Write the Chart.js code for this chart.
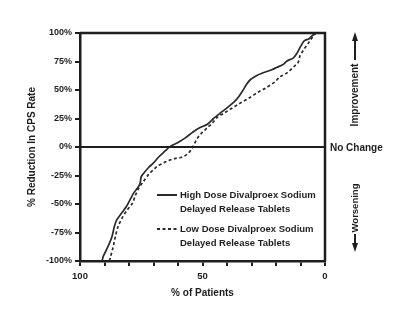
<!DOCTYPE html>
<html>
<head>
<meta charset="utf-8">
<script src="https://cdn.jsdelivr.net/npm/chart.js@4.4.1/dist/chart.umd.min.js"></script>
<style>
  html, body { margin: 0; padding: 0; background: #fff; }
  #wrap { width: 400px; height: 324px; }
</style>
</head>
<body>
<div id="wrap"><canvas id="Cps"></canvas></div>
<script>
// % of patients (x) and % reduction in CPS rate (y)
const highPct = [91, 90.5, 88.5, 87, 86, 85, 83, 81, 79.5, 78, 76.5, 75.5, 75, 74, 72, 70, 68, 65, 63.5, 60, 57, 54, 51, 48, 45.5, 42, 39, 36, 34, 32, 30.5, 28, 26, 22, 19.5, 17, 15.5, 13, 11.5, 10, 8.5, 6.5, 5, 3.5];
const highVal = [-100, -96, -87, -79, -70, -64, -58, -52, -46, -40, -36, -32, -26, -23, -18, -14, -9, -3, 0, 4, 8, 13, 17, 20, 25, 31, 36, 42, 48, 55, 59, 62.5, 64.5, 67.5, 70, 72.5, 75.5, 78, 82, 88, 93, 95, 98, 100];
const lowPct = [88, 87.5, 86.5, 85.5, 84.5, 83, 81, 78.5, 77.5, 76, 74, 72, 70, 68.5, 66, 64, 61, 58.5, 56, 54.5, 53.5, 52, 50, 48, 46, 44, 41, 38, 35, 31, 27, 24, 20.5, 18.4, 15.5, 13, 11, 10.2, 8.5, 6.5, 4];
const lowVal = [-100, -96, -88, -78, -70, -63, -56, -49, -43, -36, -30, -24, -20, -17, -14, -12, -10, -9, -6, -2, 2, 8, 13, 17, 21, 26, 30, 34, 38, 43, 48.5, 52, 57, 61.5, 65, 70, 74, 80, 86, 92, 100];

const highLabel = ["High Dose Divalproex Sodium", "Delayed Release Tablets"];
const lowLabel = ["Low Dose Divalproex Sodium", "Delayed Release Tablets"];
const xLabels = { 100: "100", 50: "50", 0: "0" }; // only these get text

const FONT = "'Liberation Sans', Arial, sans-serif";
const INK = "#1e1e1e";

function pts(xs, ys) {
    return xs.map((x, i) => ({ x: x, y: ys[i] }));
}

// frame, zero line, side notes and legend
const extras = {
    id: "extras",
    afterDatasetsDraw(chart) {
        const ctx = chart.ctx;
        const a = chart.chartArea;
        const y0 = chart.scales.y.getPixelForValue(0);
        ctx.save();
        ctx.strokeStyle = INK;
        ctx.lineWidth = 2.5;
        ctx.beginPath();
        ctx.moveTo(a.left, a.top);
        ctx.lineTo(a.right, a.top);
        ctx.lineTo(a.right, a.bottom);
        ctx.stroke();
        ctx.lineWidth = 2;
        ctx.beginPath();
        ctx.moveTo(a.left, y0);
        ctx.lineTo(a.right, y0);
        ctx.stroke();

        ctx.fillStyle = INK;
        ctx.font = "bold 10px " + FONT;
        ctx.textBaseline = "middle";
        ctx.textAlign = "left";
        ctx.fillText("No Change", a.right + 5, y0 + 1);

        // rotated notes with arrows
        const ax = 355;
        ctx.save();
        ctx.translate(ax, 95);
        ctx.rotate(-Math.PI / 2);
        ctx.textAlign = "center";
        ctx.font = "bold 10px " + FONT;
        ctx.fillText("Improvement", 0, 0);
        ctx.restore();
        ctx.save();
        ctx.translate(ax, 208);
        ctx.rotate(-Math.PI / 2);
        ctx.textAlign = "center";
        ctx.font = "bold 9.5px " + FONT;
        ctx.fillText("Worsening", 0, 0);
        ctx.restore();

        ctx.lineWidth = 2;
        ctx.beginPath();
        ctx.moveTo(ax, 60); ctx.lineTo(ax, 38);
        ctx.moveTo(ax, 234); ctx.lineTo(ax, 246);
        ctx.stroke();
        ctx.beginPath();
        ctx.moveTo(ax, 32); ctx.lineTo(ax - 3, 41); ctx.lineTo(ax + 3, 41); ctx.closePath();
        ctx.moveTo(ax, 252); ctx.lineTo(ax - 3, 243); ctx.lineTo(ax + 3, 243); ctx.closePath();
        ctx.fill();

        // legend
        const rows = [
            { ds: chart.data.datasets[0], y: 195 },
            { ds: chart.data.datasets[1], y: 229 }
        ];
        ctx.font = "bold 9.5px " + FONT;
        rows.forEach(r => {
            ctx.strokeStyle = r.ds.borderColor;
            ctx.lineWidth = 2;
            ctx.setLineDash(r.ds.borderDash || []);
            ctx.beginPath();
            ctx.moveTo(157, r.y);
            ctx.lineTo(177, r.y);
            ctx.stroke();
            ctx.setLineDash([]);
            r.ds.label.forEach((t, i) => ctx.fillText(t, 180, r.y + i * 14));
        });
        ctx.restore();
    }
};

new Chart(document.querySelector("#Cps"), {
    type: "scatter",
    data: {
        datasets: [
            {
                label: highLabel,
                data: pts(highPct, highVal),
                showLine: true,
                borderColor: "#2a2a2a",
                borderWidth: 1.7,
                pointRadius: 0,
                tension: 0.3
            },
            {
                label: lowLabel,
                data: pts(lowPct, lowVal),
                showLine: true,
                borderColor: "#2a2a2a",
                borderWidth: 1.7,
                borderDash: [3, 2.5],
                pointRadius: 0,
                tension: 0.3
            }
        ]
    },
    options: {
        responsive: true,
        maintainAspectRatio: false,
        animation: false,
        layout: { padding: { left: 0, top: 33, right: 75, bottom: 25 } },
        plugins: { legend: { display: false }, tooltip: { enabled: false } },
        scales: {
            x: {
                type: "linear",
                reverse: true,
                min: 0,
                max: 100,
                afterFit: s => { s.height = 38; },
                border: { color: INK, width: 2.5 },
                grid: { drawOnChartArea: false, tickLength: 5, color: INK, lineWidth: 2 },
                ticks: {
                    stepSize: 10,
                    padding: 5,
                    maxRotation: 0,
                    autoSkip: false,
                    color: INK,
                    font: { family: FONT, size: 9.5, weight: "bold" },
                    callback: v => xLabels[v] || ""
                },
                title: {
                    display: true,
                    text: "% of Patients",
                    color: INK,
                    padding: 0,
                    font: { family: FONT, size: 10, weight: "bold" }
                }
            },
            y: {
                min: -100,
                max: 100,
                afterFit: s => { s.width = 80; },
                border: { color: INK, width: 2.5 },
                grid: { drawOnChartArea: false, tickLength: 5, color: INK, lineWidth: 2 },
                ticks: {
                    stepSize: 25,
                    padding: 3,
                    color: INK,
                    font: { family: FONT, size: 9, weight: "bold" },
                    callback: v => v + "%"
                },
                title: {
                    display: true,
                    text: "% Reduction In CPS Rate",
                    color: INK,
                    padding: { top: 26, bottom: 0 },
                    font: { family: FONT, size: 10, weight: "bold" }
                }
            }
        }
    },
    plugins: [extras]
});
</script>
</body>
</html>
